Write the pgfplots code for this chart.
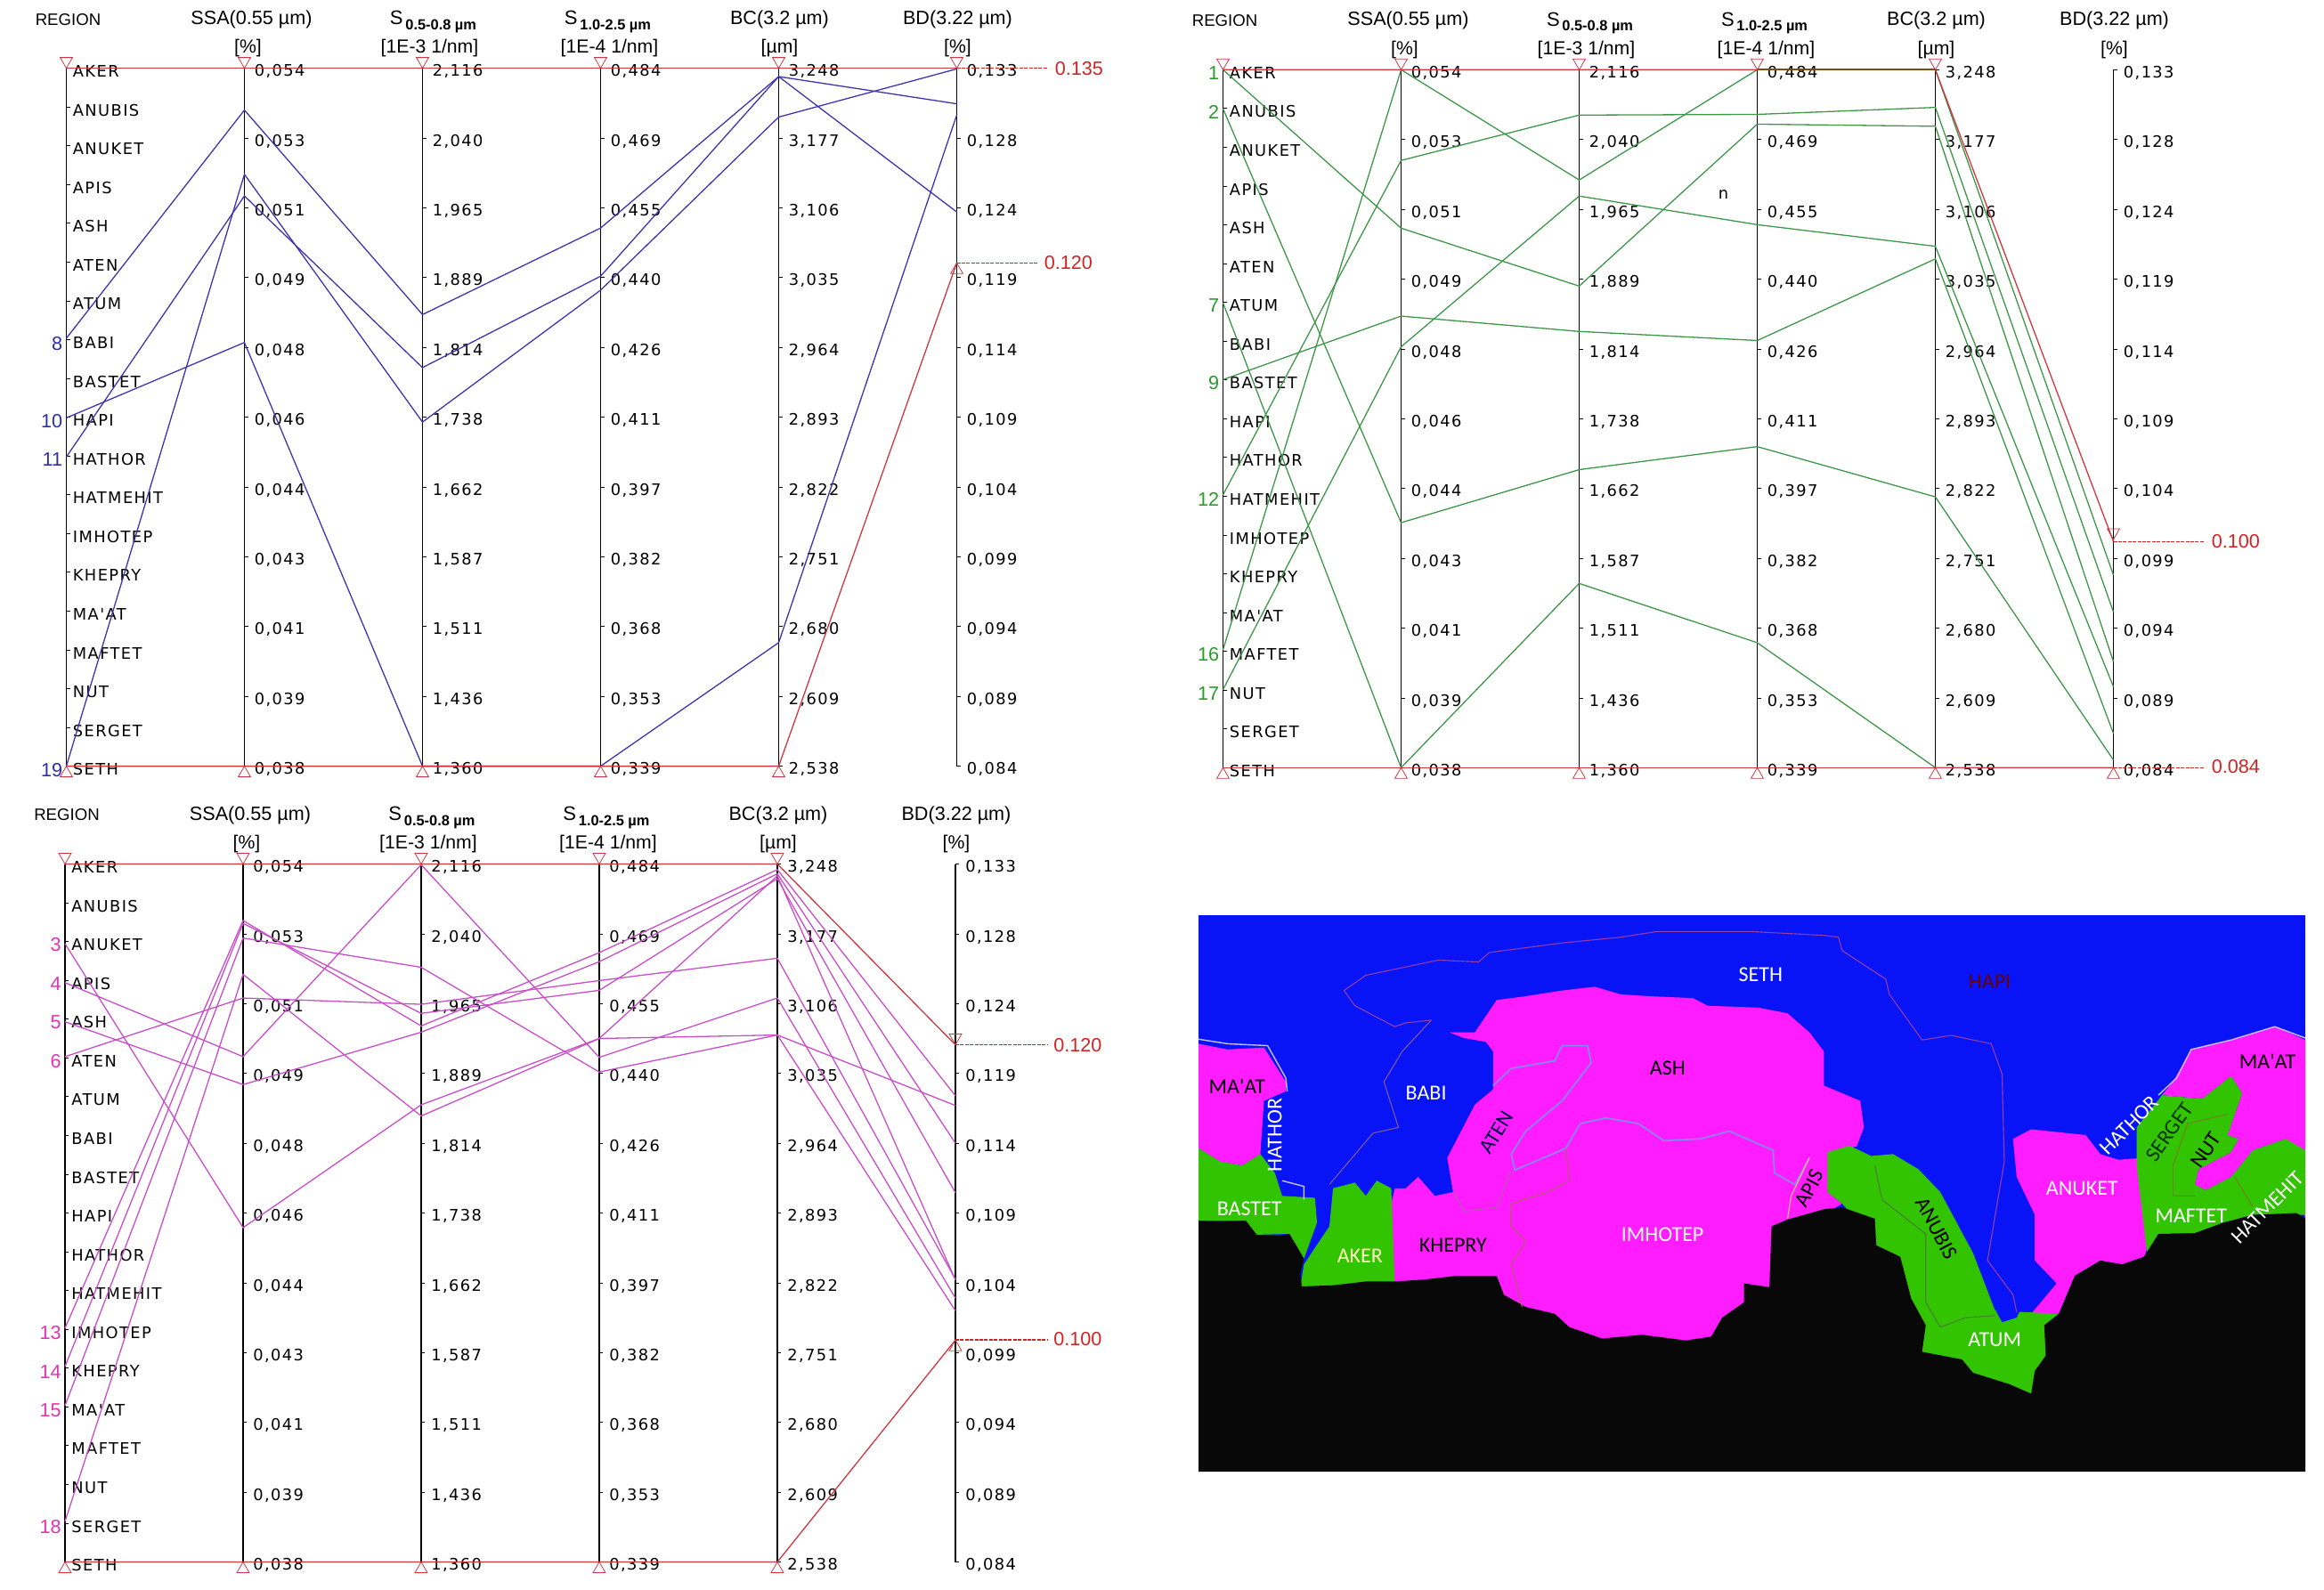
\documentclass[border=0pt]{standalone}
\usepackage{fontspec}
\usepackage{pgfplots}
\pgfplotsset{compat=1.18}
\setmainfont{Liberation Sans}
\newfontfamily\tickfont[LetterSpace=8]{DejaVu Sans}
\newfontfamily\mapfont{Carlito}

\definecolor{lblue}{RGB}{62,52,172}
\definecolor{lgreen}{RGB}{62,150,72}
\definecolor{lmag}{RGB}{200,78,200}
\definecolor{lred}{RGB}{205,55,65}
\definecolor{lbrown}{RGB}{125,75,20}
\definecolor{tred}{RGB}{210,35,35}
\definecolor{nblue}{RGB}{45,45,175}
\definecolor{ngreen}{RGB}{40,155,40}
\definecolor{nmag}{RGB}{230,50,180}
\definecolor{mblue}{RGB}{8,20,245}
\definecolor{mmag}{RGB}{255,28,255}
\definecolor{mgreen}{RGB}{50,196,0}
\definecolor{mblack}{RGB}{8,8,8}
\definecolor{eseth}{RGB}{150,60,170}
\definecolor{ebabi}{RGB}{125,90,150}
\definecolor{eaten}{RGB}{130,140,240}
\definecolor{ekhep}{RGB}{180,90,110}
\definecolor{eash}{RGB}{180,90,170}
\definecolor{eapis}{RGB}{230,190,120}
\definecolor{eanub}{RGB}{70,130,50}
\definecolor{enut}{RGB}{110,130,30}
\definecolor{ehath}{RGB}{200,190,250}

% 1 px of the reference = 0.5pt; #6 moves the labels off the tick
\newcommand{\vaxis}[6]{%
\begin{axis}[
    at={({(#1)*0.5pt},{-(#2)*0.5pt})}, anchor=north east,
    scale only axis, width=2pt, height=392pt,
    xmin=0, xmax=1, ymin=0, ymax=#3,
    axis x line=none, axis y line=right,
    axis line style={-, line width=0.6pt, black},
    xtick=\empty, ytick={#4}, yticklabels={#5},
    tick align=outside, major tick length=2pt,
    tick style={line width=0.4pt, black},
    yticklabel style={font=\tickfont\fontsize{8.9}{10}\selectfont, anchor=west, inner sep=0pt, xshift=#6, yshift=-1.8pt},
]
\end{axis}}

\newcommand{\sub}[1]{S\raisebox{-2.6pt}{\fontsize{8.2}{8}\selectfont\bfseries\,#1}}

% region and value axes with their headers, #1 x of first axis, #2 y of top
\newcommand{\panelaxes}[2]{%
\vaxis{#1}{#2}{18}{0,1,2,3,4,5,6,7,8,9,10,11,12,13,14,15,16,17,18}{SETH,SERGET,NUT,MAFTET,MA'AT,KHEPRY,IMHOTEP,HATMEHIT,HATHOR,HAPI,BASTET,BABI,ATUM,ATEN,ASH,APIS,ANUKET,ANUBIS,AKER}{1.5pt}
\vaxis{#1+200}{#2}{1}{0,.1,.2,.3,.4,.5,.6,.7,.8,.9,1}{{0,038},{0,039},{0,041},{0,043},{0,044},{0,046},{0,048},{0,049},{0,051},{0,053},{0,054}}{3.5pt}
\vaxis{#1+400}{#2}{1}{0,.1,.2,.3,.4,.5,.6,.7,.8,.9,1}{{1,360},{1,436},{1,511},{1,587},{1,662},{1,738},{1,814},{1,889},{1,965},{2,040},{2,116}}{3.5pt}
\vaxis{#1+600}{#2}{1}{0,.1,.2,.3,.4,.5,.6,.7,.8,.9,1}{{0,339},{0,353},{0,368},{0,382},{0,397},{0,411},{0,426},{0,440},{0,455},{0,469},{0,484}}{3.5pt}
\vaxis{#1+800}{#2}{1}{0,.1,.2,.3,.4,.5,.6,.7,.8,.9,1}{{2,538},{2,609},{2,680},{2,751},{2,822},{2,893},{2,964},{3,035},{3,106},{3,177},{3,248}}{3.5pt}
\vaxis{#1+1000}{#2}{1}{0,.1,.2,.3,.4,.5,.6,.7,.8,.9,1}{{0,084},{0,089},{0,094},{0,099},{0,104},{0,109},{0,114},{0,119},{0,124},{0,128},{0,133}}{3.5pt}
\node[font=\fontsize{9.3}{10}\selectfont] at ({(#1+2)*0.5pt},{-(#2-55)*0.5pt}) {REGION};
\node[font=\fontsize{10.8}{11}\selectfont] at ({(#1+208)*0.5pt},{-(#2-55)*0.5pt}) {SSA(0.55 µm)};
\node[font=\fontsize{10.6}{11}\selectfont] at ({(#1+204)*0.5pt},{-(#2-22.6)*0.5pt}) {[\%]};
\node[font=\fontsize{11}{11}\selectfont] at ({(#1+412)*0.5pt},{-(#2-52)*0.5pt}) {\sub{0.5-0.8 µm}};
\node[font=\fontsize{10.6}{11}\selectfont] at ({(#1+408)*0.5pt},{-(#2-22.6)*0.5pt}) {[1E-3 1/nm]};
\node[font=\fontsize{11}{11}\selectfont] at ({(#1+608)*0.5pt},{-(#2-52)*0.5pt}) {\sub{1.0-2.5 µm}};
\node[font=\fontsize{10.6}{11}\selectfont] at ({(#1+610)*0.5pt},{-(#2-22.6)*0.5pt}) {[1E-4 1/nm]};
\node[font=\fontsize{10.8}{11}\selectfont] at ({(#1+801)*0.5pt},{-(#2-55)*0.5pt}) {BC(3.2 µm)};
\node[font=\fontsize{10.6}{11}\selectfont] at ({(#1+801)*0.5pt},{-(#2-22.6)*0.5pt}) {[µm]};
\node[font=\fontsize{10.8}{11}\selectfont] at ({(#1+1001)*0.5pt},{-(#2-55)*0.5pt}) {BD(3.22 µm)};
\node[font=\fontsize{10.6}{11}\selectfont] at ({(#1+1001)*0.5pt},{-(#2-22.6)*0.5pt}) {[\%]};
}

\pgfplotsset{
    lines panel/.style={
        scale only axis, width=500pt, height=392pt,
        xmin=0, xmax=5, ymin=0, ymax=1,
        hide axis, clip=false, anchor=north west,
        every axis plot/.append style={line width=0.65pt, mark=none},
    },
    tridown/.style={only marks, mark=triangle, mark size=4pt, lred,
        mark options={yshift=4pt, rotate=180, line width=0.4pt}},
    triup/.style={only marks, mark=triangle, mark size=4pt, lred,
        mark options={yshift=-4pt, line width=0.4pt}},
    cut/.style={dash pattern=on 2pt off 0.7pt, tred, line width=0.8pt},
    map area/.style={draw=none, fill=#1},
    map edge/.style={draw=#1, line width=0.55pt},
}
\newcommand{\rn}[3]{\node[anchor=east, text=#1, font=\fontsize{10.8}{11}\selectfont, inner sep=0pt, yshift=-2pt] at (axis cs:-0.02,#2) {#3};}
\newcommand{\rv}[3]{\node[anchor=west, text=tred, font=\fontsize{10.8}{11}\selectfont, inner sep=0pt] at (axis cs:#1,#2) {#3};}
\newcommand{\ml}[5][0]{\node[text=#4, rotate=#1, font=\mapfont\fontsize{12}{12}\selectfont, inner sep=0pt] at (axis cs:#2,#3) {#5};}

\begin{document}
\begin{tikzpicture}
\useasboundingbox (0,0) rectangle (1305pt,-892.5pt);

% top left, blue group
\panelaxes{74.5}{76.6}
\begin{axis}[lines panel, at={(37.25pt,-38.3pt)}]
\addplot[lblue] coordinates {(0,.613)(1,.940)(2,.647)(3,.771)(4,.988)(5,.949)};
\addplot[lblue] coordinates {(0,.499)(1,.607)(2,0)(3,0)(4,.177)(5,.933)};
\addplot[lblue] coordinates {(0,.443)(1,.817)(2,.571)(3,.702)(4,.988)(5,.794)};
\addplot[lblue] coordinates {(0,0)(1,.848)(2,.493)(3,.682)(4,.930)(5,.999)};
\addplot[lred] coordinates {(0,1)(1,1)(2,1)(3,1)(4,1)(5,1)};
\addplot[lred] coordinates {(0,0)(1,0)(2,0)(3,0)(4,0)(5,.721)};
\addplot[cut] coordinates {(5,1)(5.51,1)};
\addplot[cut] coordinates {(5,.721)(5.45,.721)};
\addplot[tridown] coordinates {(0,1)(1,1)(2,1)(3,1)(4,1)(5,1)};
\addplot[triup] coordinates {(0,0)(1,0)(2,0)(3,0)(4,0)(5,.721)};
\rv{5.55}{1}{0.135}
\rv{5.49}{.721}{0.120}
\rn{nblue}{.611}{8}
\rn{nblue}{.5}{10}
\rn{nblue}{.444}{11}
\rn{nblue}{0}{19}
\end{axis}

% top right, green group
\panelaxes{1373.5}{78.3}
\begin{axis}[lines panel, at={(686.75pt,-39.15pt)}]
\addplot[lgreen] coordinates {(0,1)(1,.773)(2,.690)(3,.922)(4,.919)(5,.152)};
\addplot[lgreen] coordinates {(0,.944)(1,.351)(2,.427)(3,.460)(4,.388)(5,.011)};
\addplot[lgreen] coordinates {(0,.666)(1,0)(2,.264)(3,.179)(4,0)(5,0)};
\addplot[lgreen] coordinates {(0,.556)(1,.647)(2,.625)(3,.612)(4,.729)(5,.049)};
\addplot[lgreen] coordinates {(0,.391)(1,.870)(2,.935)(3,.936)(4,.946)(5,.223)};
\addplot[lgreen] coordinates {(0,.169)(1,1)(2,.842)(3,1)(4,1)(5,.276)};
\addplot[lgreen] coordinates {(0,.112)(1,.603)(2,.819)(3,.778)(4,.747)(5,.116)};
\addplot[lred] coordinates {(0,1)(1,1)(2,1)(3,1)(4,1)(5,.324)};
\addplot[lred] coordinates {(0,0)(1,0)(2,0)(3,0)(4,0)(5,0)};
\addplot[lbrown, line width=1.1pt] coordinates {(3,1)(4,1)};
\addplot[cut] coordinates {(5,.324)(5.51,.324)};
\addplot[cut] coordinates {(5,0)(5.51,0)};
\addplot[tridown] coordinates {(0,1)(1,1)(2,1)(3,1)(4,1)(5,.327)};
\addplot[triup] coordinates {(0,0)(1,0)(2,0)(3,0)(4,0)(5,0)};
\rv{5.55}{.324}{0.100}
\rv{5.55}{.002}{0.084}
\rn{ngreen}{1}{1}
\rn{ngreen}{.944}{2}
\rn{ngreen}{.667}{7}
\rn{ngreen}{.556}{9}
\rn{ngreen}{.389}{12}
\rn{ngreen}{.167}{16}
\rn{ngreen}{.111}{17}
\node[font=\tickfont\fontsize{8.9}{10}\selectfont] at (axis cs:2.81,.821) {n};
\end{axis}

% bottom left, magenta group
\panelaxes{73}{970.5}
\begin{axis}[lines panel, at={(36.5pt,-485.25pt)}]
\addplot[lmag] coordinates {(0,.886)(1,.479)(2,.655)(3,.750)(4,.755)(5,.654)};
\addplot[lmag] coordinates {(0,.830)(1,.724)(2,.999)(3,.723)(4,.808)(5,.378)};
\addplot[lmag] coordinates {(0,.774)(1,.684)(2,.759)(3,.860)(4,.986)(5,.600)};
\addplot[lmag] coordinates {(0,.724)(1,.808)(2,.799)(3,.833)(4,.865)(5,.405)};
\addplot[lmag] coordinates {(0,.335)(1,.919)(2,.768)(3,.873)(4,.992)(5,.668)};
\addplot[lmag] coordinates {(0,.280)(1,.915)(2,.786)(3,.819)(4,.979)(5,.529)};
\addplot[lmag] coordinates {(0,.224)(1,.894)(2,.852)(3,.702)(4,.755)(5,.360)};
\addplot[lmag] coordinates {(0,.058)(1,.842)(2,.639)(3,.750)(4,.983)(5,.404)};
\addplot[lred] coordinates {(0,1)(1,1)(2,1)(3,1)(4,1)(5,.741)};
\addplot[lred] coordinates {(0,0)(1,0)(2,0)(3,0)(4,0)(5,.318)};
\addplot[cut] coordinates {(5,.741)(5.52,.741)};
\addplot[cut] coordinates {(5,.318)(5.52,.318)};
\addplot[tridown] coordinates {(0,1)(1,1)(2,1)(3,1)(4,1)(5,.741)};
\addplot[triup] coordinates {(0,0)(1,0)(2,0)(3,0)(4,0)(5,.318)};
\rv{5.55}{.741}{0.120}
\rv{5.55}{.32}{0.100}
\rn{nmag}{.889}{3}
\rn{nmag}{.833}{4}
\rn{nmag}{.778}{5}
\rn{nmag}{.722}{6}
\rn{nmag}{.333}{13}
\rn{nmag}{.278}{14}
\rn{nmag}{.222}{15}
\rn{nmag}{.056}{18}
\end{axis}

% region map
\begin{axis}[
    at={(673pt,-514pt)}, anchor=north west,
    scale only axis, width=621.5pt, height=312.5pt,
    xmin=20, xmax=1542, ymin=42, ymax=1505, y dir=reverse,
    hide axis, clip=true,
]
\addplot[map area=mblue] coordinates {(20,42)(1542,42)(1542,1505)(20,1505)} --cycle;
% magenta regions
\addplot[map area=mmag] coordinates {(365,350)(400,350)(430,265)(470,255)(520,240)(565,230)(600,250)(640,255)(700,260)(720,280)(790,285)(830,300)(860,350)(880,400)(880,490)(930,530)(935,600)(925,650)(890,665)(885,770)(905,800)(880,830)(830,860)(830,1200)(285,1200)(285,800)(290,760)(305,760)(322,730)(345,780)(370,770)(362,680)(400,540)(425,500)(425,400)(415,375)(385,365)} --cycle;
\addplot[map area=mmag] coordinates {(1140,630)(1165,605)(1240,620)(1260,670)(1285,685)(1320,680)(1330,880)(1320,945)(1290,960)(1260,950)(1225,990)(1203,1090)(1165,1090)(1200,1010)(1170,950)(1170,830)(1145,730)} --cycle;
\addplot[map area=mmag] coordinates {(1345,515)(1360,480)(1385,395)(1440,370)(1500,335)(1542,370)(1542,840)(1515,630)(1470,660)(1440,730)(1405,765)(1390,750)(1395,710)(1440,665)(1450,630)(1435,620)(1455,510)(1440,465)(1400,525)} --cycle;
\addplot[map area=mmag] coordinates {(20,380)(60,395)(110,390)(140,480)(140,505)(110,530)(105,670)(80,700)(50,690)(20,655)} --cycle;
% green regions
\addplot[map area=mgreen] coordinates {(20,655)(50,690)(80,700)(105,670)(125,720)(135,780)(180,785)(183,850)(165,945)(145,880)(100,882)(80,845)(20,845)} --cycle;
\addplot[map area=mgreen] coordinates {(205,760)(235,745)(250,780)(265,740)(285,760)(290,1020)(160,1020)(165,960)(200,860)} --cycle;
\addplot[map area=mgreen] coordinates {(885,665)(915,648)(945,675)(975,670)(1010,710)(1040,770)(1085,930)(1115,1080)(1150,1085)(1203,1090)(1190,1200)(1170,1310)(1100,1280)(1000,1200)(950,900)(905,800)(885,770)} --cycle;
\addplot[map area=mblue] coordinates {(1116,1080)(1150,1080)(1145,1100)(1125,1112)} --cycle;
\addplot[map area=mgreen] coordinates {(1310,600)(1345,515)(1400,525)(1440,465)(1455,510)(1435,620)(1450,630)(1440,665)(1395,710)(1390,750)(1405,765)(1440,730)(1470,660)(1515,630)(1542,660)(1542,830)(1470,830)(1430,850)(1390,878)(1340,880)(1325,940)(1310,700)} --cycle;
% land below the data
\addplot[map area=mblack] coordinates {(20,845)(50,848)(85,845)(100,882)(130,885)(145,880)(165,945)(160,985)(162,1018)(205,1015)(250,1005)(290,1005)(330,1000)(375,990)(430,990)(440,1040)(470,1072)(510,1090)(530,1125)(575,1155)(630,1145)(690,1160)(725,1150)(740,1100)(770,1060)(770,1010)(805,1020)(808,860)(830,842)(880,815)(905,810)(950,840)(952,910)(985,940)(1000,1050)(1020,1120)(1015,1190)(1070,1210)(1085,1245)(1135,1275)(1165,1300)(1170,1240)(1185,1200)(1183,1120)(1203,1090)(1225,990)(1260,950)(1290,960)(1320,940)(1340,880)(1390,878)(1430,850)(1470,830)(1530,825)(1542,840)(1542,1505)(20,1505)} --cycle;
% region boundaries
\addplot[map edge=eseth] coordinates {(340,318)(305,325)(290,335)(235,280)(220,240)(250,200)(350,160)(405,165)(420,140)(520,115)(600,100)(650,85)(780,85)(880,95)(900,100)(905,135)(965,210)(970,250)(1015,370)(1055,358)(1110,380)(1125,460)(1128,690)(1105,950)(1140,1040)(1145,1085)};
\addplot[map edge=ebabi] coordinates {(340,318)(300,400)(275,480)(295,600)(260,615)(200,750)};
\addplot[map edge=eaten, line width=0.8pt] coordinates {(425,490)(450,445)(510,425)(520,385)(555,385)(560,430)(520,530)(470,610)(450,670)(455,712)(525,655)(545,590)(580,575)(625,590)(660,635)(710,630)(750,610)(810,660)(812,720)(840,750)(860,680)};
\addplot[map edge=ekhep] coordinates {(525,655)(530,740)(500,770)(450,800)(450,860)(470,900)(450,960)(465,1072)};
\addplot[map edge=eash] coordinates {(370,770)(385,820)(430,810)(450,712)};
\addplot[map edge=eapis] coordinates {(860,680)(835,780)(830,840)};
\addplot[map edge=eanub] coordinates {(950,700)(960,790)(1020,880)(1020,1060)(1040,1125)(1075,1100)(1115,1095)};
\addplot[map edge=enut] coordinates {(1435,565)(1380,590)(1360,700)(1360,780)(1390,780)};
\addplot[map edge=enut] coordinates {(1445,730)(1470,810)};
\addplot[map edge=ehath, line width=0.7pt] coordinates {(20,368)(60,380)(115,385)(140,470)(142,505)};
\addplot[map edge=ehath, line width=0.7pt] coordinates {(1340,515)(1365,470)(1385,395)(1440,370)(1500,335)(1542,365)};
\addplot[map edge=ehath, line width=0.7pt] coordinates {(135,740)(165,755)(165,790)};
% names
\ml{793}{198}{white}{SETH}
\ml{1108}{218}{black!60!red}{HAPI}
\ml{73}{493}{black}{MA'AT}
\ml{1490}{427}{black}{MA'AT}
\ml[90]{125}{620}{white}{HATHOR}
\ml{333}{510}{white}{BABI}
\ml[58]{430}{612}{black!70!blue}{ATEN}
\ml{665}{445}{black}{ASH}
\ml[62]{860}{760}{black}{APIS}
\ml{90}{813}{white}{BASTET}
\ml{242}{938}{yellow!25}{AKER}
\ml{370}{910}{black}{KHEPRY}
\ml{658}{882}{white}{IMHOTEP}
\ml[-62]{1035}{865}{black}{ANUBIS}
\ml{1235}{760}{white}{ANUKET}
\ml{1115}{1158}{white}{ATUM}
\ml[45]{1300}{595}{white}{HATHOR}
\ml[55]{1355}{612}{black!80!green}{SERGET}
\ml[55]{1405}{660}{black}{NUT}
\ml{1385}{832}{white}{MAFTET}
\ml[45]{1490}{810}{white}{HATMEHIT}
\end{axis}
\end{tikzpicture}
\end{document}
